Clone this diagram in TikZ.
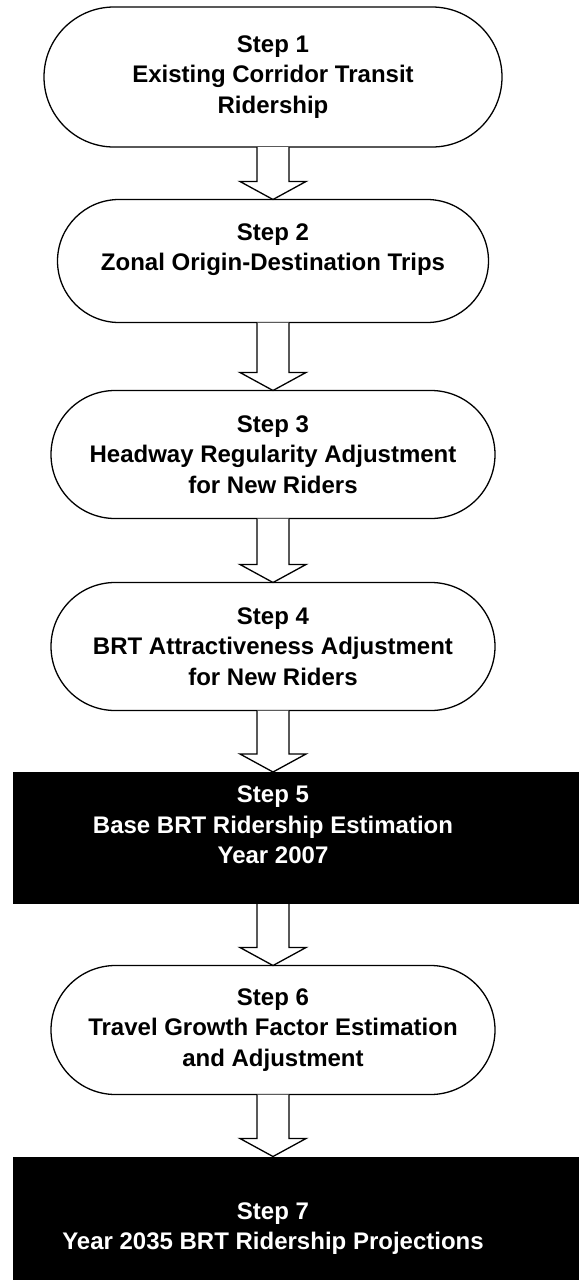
\documentclass[tikz,border=0pt]{standalone}
\usepackage{fontspec}
\setmainfont{Liberation Sans}
\usetikzlibrary{positioning, shapes.misc, calc}

\begin{document}
\begin{tikzpicture}[
    node distance=61.5pt,
    stepround/.style={
        rounded rectangle,
        draw,
        line width=1.3pt,
        fill=white,
        minimum width=#1,
        outer sep=0pt,
        align=center,
        font=\fontsize{24}{30.5}\selectfont\bfseries,
        inner sep=2pt
    },
    stepdark/.style={
        rectangle,
        fill=black,
        text=white,
        minimum width=520pt,
        outer sep=0pt,
        align=center,
        font=\fontsize{24}{30.5}\selectfont\bfseries,
        inner sep=2pt
    },
    bigarr/.style={draw, line width=1.3pt, fill=white, line join=miter}
]
\useasboundingbox (0,0) rectangle (579pt,-1283pt);

% STEPS
\node[stepround=462pt, minimum height=140pt] (b1) at (273pt,-77pt)
{Step 1\\Existing Corridor Transit\\Ridership};

\node[stepround=435pt, minimum height=123pt, below=52.5pt of b1] (b2)
{Step 2\\Zonal Origin-Destination Trips\rule[-28pt]{0pt}{0pt}};

\node[stepround=448pt, minimum height=128pt, below=68pt of b2] (b3)
{Step 3\\Headway Regularity Adjustment\\for New Riders};

\node[stepround=448pt, minimum height=128pt, below=64pt of b3] (b4)
{Step 4\\BRT Attractiveness Adjustment\\for New Riders};

\node[stepdark, minimum height=132pt, below=of b4] (b5)
{Step 5\\Base BRT Ridership Estimation\\Year 2007\rule[-26pt]{0pt}{0pt}};
\fill (b5.north east) rectangle ([xshift=46pt]b5.south east);

\node[stepround=448pt, minimum height=129pt, below=of b5] (b6)
{Step 6\\Travel Growth Factor Estimation\\and Adjustment};

\node[stepdark, minimum height=123pt, below=62pt of b6] (b7)
{\rule{0pt}{38pt}Step 7\\Year 2035 BRT Ridership Projections};
\fill (b7.north east) rectangle ([xshift=46pt]b7.south east);

% ARROWS
\foreach \a/\b in {b1/b2, b2/b3, b3/b4, b4/b5, b5/b6, b6/b7}
  \draw[bigarr] ([xshift=-16pt]\a.south)
    -- ([xshift=-16pt, yshift=18pt]\b.north)
    -- ([xshift=-33pt, yshift=18pt]\b.north)
    -- (\b.north)
    -- ([xshift=33pt, yshift=18pt]\b.north)
    -- ([xshift=16pt, yshift=18pt]\b.north)
    -- ([xshift=16pt]\a.south);

\end{tikzpicture}
\end{document}
